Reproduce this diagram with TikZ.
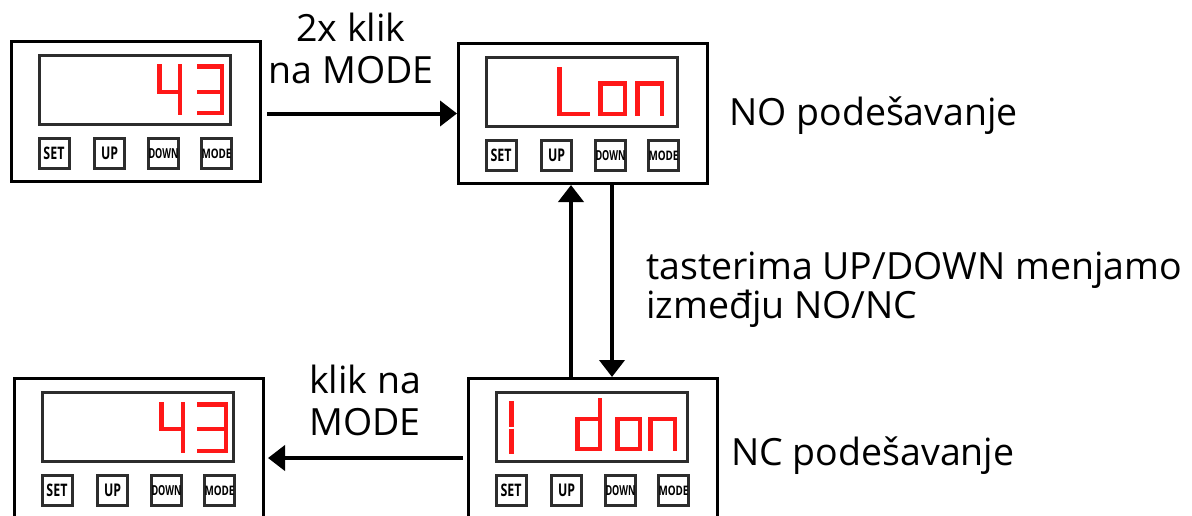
\documentclass[tikz,border=0pt]{standalone}
\usepackage{fontspec}
\setmainfont{Open Sans}
\usetikzlibrary{arrows.meta}
\definecolor{segred}{RGB}{255,24,24}
\definecolor{framegray}{RGB}{45,45,45}
\newcommand\btnlabel[3]{\resizebox{#1}{#2}{\bfseries #3}}
% #1 name, #2 left edge, #3 top edge (pixels)
\newcommand\device[3]{%
  \node[outerbox] (#1) at (#2+126,#3+71.5) {};
  \node[dispbox] (#1-disp) at (#2+125,#3+50) {};
  \node[btnbox] (#1-set)  at (#2+44,#3+113.5)  {\btnlabel{21pt}{12.5pt}{SET}};
  \node[btnbox] (#1-up)   at (#2+99.5,#3+113.5) {\btnlabel{17pt}{12.5pt}{UP}};
  \node[btnbox] (#1-down) at (#2+153.5,#3+113.5) {\btnlabel{30pt}{10pt}{DOWN}};
  \node[btnbox] (#1-mode) at (#2+206.5,#3+113.5) {\btnlabel{30pt}{9.5pt}{MODE}};
}
\begin{document}
\begin{tikzpicture}[x=1pt,y=-1pt,
  outerbox/.style={draw=black, line width=3pt, minimum width=249pt, minimum height=140pt, inner sep=0pt},
  dispbox/.style={draw=framegray, line width=3pt, minimum width=191pt, minimum height=69pt, inner sep=0pt},
  btnbox/.style={draw=framegray, line width=3pt, minimum width=30pt, minimum height=30pt, inner sep=0pt},
  seg/.style={draw=segred, line width=4.5pt, line cap=rect, line join=miter},
  conn/.style={draw=black, line width=4pt, -{Triangle[length=17pt,width=25pt]}},
  lbl/.style={font=\fontsize{37.5}{42}\selectfont, inner sep=0pt, text=black}]
\useasboundingbox (0,0) rectangle (1192,515);
\clip (0,0) rectangle (1192,515);
\fill[white] (0,0) rectangle (1192,515);

\device{dev1}{10}{40}
\device{dev2}{457}{42}
\device{dev3}{13}{377}
\device{dev4}{467}{377}

% dev1: 43
\draw[seg] (159.25,66.25) -- (159.25,92) -- (179.75,92);
\draw[seg] (179.75,66.25) -- (179.75,112.75);
\draw[seg] (199.25,66.25) -- (221.75,66.25) -- (221.75,112.75) -- (199.25,112.75);
\draw[seg] (199.25,92) -- (221.75,92);
% dev3: 43
\draw[seg] (161.25,404.25) -- (161.25,429) -- (182.75,429);
\draw[seg] (182.75,404.25) -- (182.75,450.75);
\draw[seg] (199.25,404.25) -- (225.75,404.25) -- (225.75,450.75) -- (199.25,450.75);
\draw[seg] (199.25,429) -- (225.75,429);
% dev2: Lon
\draw[seg] (559.25,69.25) -- (559.25,113.75) -- (587.75,113.75);
\draw[seg] (600.25,83.25) -- (624.75,83.25) -- (624.75,113.75) -- (600.25,113.75) -- cycle;
\draw[seg] (637.25,113.75) -- (637.25,83.25) -- (661.75,83.25) -- (661.75,113.75);
% dev4: 1 don
\draw[seg, line cap=butt] (511.5,401) -- (511.5,427);
\draw[seg, line cap=butt] (511.5,428.5) -- (511.5,454);
\draw[seg] (599.75,400.25) -- (599.75,448.75) -- (577.25,448.75) -- (577.25,419) -- (599.75,419);
\draw[seg] (617.25,419) -- (639.75,419) -- (639.75,448.75) -- (617.25,448.75) -- cycle;
\draw[seg] (650.25,448.75) -- (650.25,419) -- (674.75,419) -- (674.75,448.75);

% connectors
\draw[conn, shorten <=5pt] (dev1.east |- dev2.west) -- (dev2.west);
\draw[conn] ([xshift=-12pt]dev2.south |- dev4.north) -- ([xshift=-12pt]dev2.south);
\draw[conn] ([xshift=29pt]dev2.south) -- ([xshift=29pt]dev2.south |- dev4.north);
\draw[conn, shorten <=4pt, shorten >=3pt] ([yshift=-9.5pt]dev4.west) -- ([yshift=-9.5pt]dev3.east);

% labels (base anchor = baseline of the last line)
\node[lbl, anchor=base, align=center] (t1) at (351,83) {2x klik\\na MODE};
\node[lbl, anchor=base west] (t2) at (729,125) {NO podešavanje};
\node[lbl, anchor=base west, align=left, font=\fontsize{37.5}{39}\selectfont] (t3) at (646,318) {tasterima UP/DOWN menjamo\\izmeđju NO/NC};
\node[lbl, anchor=base, align=center] (t4) at (365,435) {klik na\\MODE};
\node[lbl, anchor=base west] (t5) at (731,465) {NC podešavanje};
\end{tikzpicture}
\end{document}
